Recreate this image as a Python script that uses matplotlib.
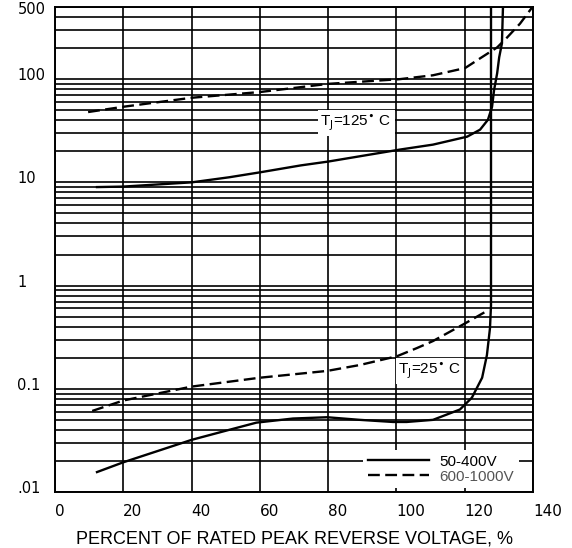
import numpy as np
import matplotlib
matplotlib.use("Agg")
import matplotlib.pyplot as plt
import matplotlib.transforms as mtransforms
from matplotlib.ticker import LogLocator, NullFormatter, FixedLocator, FixedFormatter

# data (percent of rated voltage, reverse current)
x_125_hv = [9.7, 20, 40, 60, 80, 101, 110.7, 120.1, 124.5, 129.5, 132.4, 136.2, 139.7]
y_125_hv = [48, 54, 66, 75, 90, 100, 109, 128, 159, 203, 253, 345, 493]

x_125_lv = [12.3, 20, 40, 51, 60, 72, 80, 101.1, 110.7, 120.7, 124.5, 126.8, 128.0, 128.6, 129.5, 130.1, 130.9, 131.2]
y_125_lv = [9.0, 9.1, 10.0, 11.2, 12.5, 14.6, 15.9, 20.8, 23.2, 27.7, 32.4, 40.4, 53.8, 78.4, 114, 163, 222, 493]

x_25_hv = [10.9, 20, 40, 60, 79.7, 89.3, 100.2, 106, 110.7, 120.1, 126.8]
y_25_hv = [0.061, 0.077, 0.105, 0.128, 0.149, 0.17, 0.207, 0.248, 0.29, 0.43, 0.575]

x_25_lv = [12.3, 20, 40, 51, 59, 69.7, 79.7, 89.3, 99, 103, 110.7, 118.6, 122.1, 125.1, 126.5, 127.4, 127.7, 127.7]
y_25_lv = [0.0156, 0.0194, 0.032, 0.040, 0.047, 0.0515, 0.053, 0.050, 0.0477, 0.0477, 0.050, 0.063, 0.082, 0.128, 0.212, 0.386, 0.645, 500]

xticks = [0, 20, 40, 60, 80, 100, 120, 140]
yticks = [0.01, 0.1, 1, 10, 100, 500]
ytick_labels = ['.01', '0.1', '1', '10', '100', '500']

fig = plt.figure(figsize=(5.72, 5.48), dpi=100)
ax = fig.add_axes([55/572, 1-492/548, 478/572, 485/548])

ax.set_yscale('log')
ax.set_xlim(0, 140)
ax.set_ylim(0.01, 500)

ax.xaxis.set_major_locator(FixedLocator(xticks))
ax.yaxis.set_major_locator(FixedLocator(yticks))
ax.yaxis.set_major_formatter(FixedFormatter(ytick_labels))
ax.yaxis.set_minor_locator(LogLocator(base=10, subs=np.arange(2, 10)))
ax.yaxis.set_minor_formatter(NullFormatter())

ax.set_axisbelow(True)
ax.grid(True, which='major', color='black', lw=1.2)
ax.grid(True, which='minor', axis='y', color='black', lw=1.2)
for s in ax.spines.values():
    s.set_linewidth(1.4)

ax.tick_params(which='both', length=0)
ax.tick_params(axis='y', pad=27, labelsize=10.5)
ax.tick_params(axis='x', pad=9, labelsize=11)

# labels sit a few pixels above their lines in the original (top one kept inside)
up = mtransforms.ScaledTranslation(0, 5/100, fig.dpi_scale_trans)
down = mtransforms.ScaledTranslation(0, -1/100, fig.dpi_scale_trans)
for t in ax.get_yticklabels():
    t.set_ha('left')
    if t.get_text() == '500':
        t.set_transform(t.get_transform() + down)
    else:
        t.set_transform(t.get_transform() + up)
for t in ax.get_xticklabels():
    t.set_ha('left')

dash = (5, 2.3)
ax.plot(x_125_lv, y_125_lv, color='black', lw=1.7, label='50-400V')
ax.plot(x_125_hv, y_125_hv, color='black', lw=1.7, dashes=dash, label='600-1000V')
ax.plot(x_25_lv, y_25_lv, color='black', lw=1.7)
ax.plot(x_25_hv, y_25_hv, color='black', lw=1.7, dashes=dash)

box = dict(facecolor='white', edgecolor='none', pad=2)
ax.text(88.2, 37.8, r'T$_{\rm J}$=125$^{\bullet}$ C', fontsize=11, family='Liberation Sans',
        ha='center', va='center', bbox=box)
ax.text(109.8, 0.149, r'T$_{\rm J}$=25$^{\bullet}$ C', fontsize=11, family='Liberation Sans',
        ha='center', va='center', bbox=box)

leg = ax.legend(loc='lower right', bbox_to_anchor=(0.97, 0.008), frameon=True,
                prop={'family': 'Liberation Sans', 'size': 11},
                handlelength=4, handletextpad=0.7, labelspacing=0.05,
                borderpad=0.3, borderaxespad=0)
leg.get_frame().set_edgecolor('none')
leg.get_frame().set_facecolor('white')
leg.get_frame().set_alpha(1)
leg.get_texts()[1].set_color('#555555')

ax.set_xlabel('PERCENT OF RATED PEAK REVERSE VOLTAGE, %', family='Liberation Sans',
              fontsize=13, labelpad=8)

fig.savefig('out.png', dpi=100)
